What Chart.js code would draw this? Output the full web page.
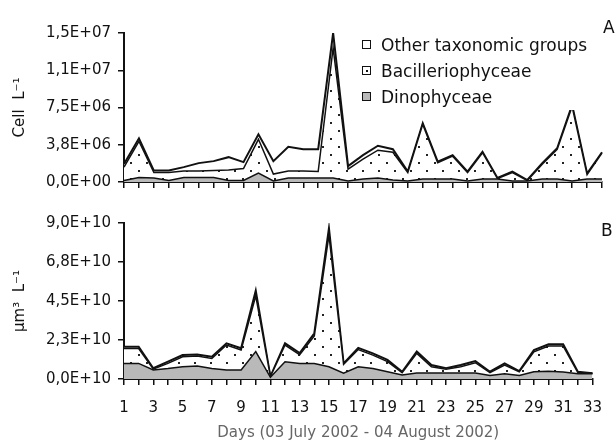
<!DOCTYPE html>
<html>
<head>
<meta charset="utf-8">
<script src="https://cdn.jsdelivr.net/npm/chart.js@4.4.1/dist/chart.umd.min.js"></script>
<style>
  body { margin: 0; background: #fff; font-family: "DejaVu Sans", sans-serif; }
  #page { position: relative; width: 616px; height: 448px; overflow: hidden; }
  #wrapA { position: absolute; left: 0; top: 0; width: 616px; height: 200px; }
  #wrapB { position: absolute; left: 0; top: 200px; width: 616px; height: 248px; }
  .tag { position: absolute; font-size: 17px; color: #111; }
  #legend { position: absolute; left: 362px; top: 32px; font-size: 17px; color: #111; background: #fff; }
  #legend .row { height: 26px; line-height: 26px; white-space: nowrap; }
  #legend .box { display: inline-block; width: 7px; height: 7px; border: 1.5px solid #111; vertical-align: middle; margin: -3px 10px 0 0; position: relative; }
</style>
</head>
<body>
<div id="page">
  <div id="wrapA"><canvas id="chartA" width="616" height="200"></canvas></div>
  <div id="wrapB"><canvas id="chartB" width="616" height="248"></canvas></div>
  <div id="legend"></div>
  <div class="tag" style="left:603px; top:17px;">A</div>
  <div class="tag" style="left:601px; top:220px;">B</div>
</div>
<script>
// x: day number, y values
const days = [1,2,3,4,5,6,7,8,9,10,11,12,13,14,15,16,17,18,19,20,21,22,23,24,25,26,27,28,29,30,31,32,33];

// panel A, cells per litre (x 1E+06)
const cellDino  = [0.15,0.45,0.4,0.15,0.45,0.45,0.45,0.15,0.15,0.9,0.1,0.4,0.4,0.4,0.4,0.1,0.3,0.4,0.2,0.1,0.3,0.3,0.3,0.1,0.3,0.3,0.1,0.1,0.3,0.3,0.1,0.3,0.3];
const cellBacil = [1.35,3.65,0.55,0.8,0.65,0.65,0.7,1.05,1.2,3.4,0.7,0.7,0.7,0.65,13.1,1.2,2.0,2.8,2.8,0.85,5.5,1.65,2.3,0.85,2.65,0.05,0.85,0.05,1.5,3.0,7.5,0.45,2.6];
const cellOther = [0.3,0.3,0.2,0.2,0.4,0.8,0.95,1.3,0.65,0.5,1.3,2.45,2.2,2.25,1.5,0.3,0.4,0.45,0.3,0.1,0.1,0.1,0.1,0.1,0.1,0.05,0.1,0.05,0.1,0.1,0.15,0.1,0.1];

// panel B, biovolume um3 per litre (x 1E+10)
const bioDino  = [0.9,0.9,0.52,0.6,0.71,0.75,0.6,0.52,0.52,1.58,0.1,1.0,0.9,0.9,0.71,0.33,0.71,0.6,0.42,0.23,0.35,0.35,0.35,0.35,0.35,0.2,0.3,0.2,0.42,0.45,0.4,0.3,0.3];
const bioBacil = [0.86,0.86,0.05,0.3,0.57,0.57,0.59,1.44,1.15,3.22,0.03,0.96,0.5,1.59,7.59,0.52,0.99,0.78,0.58,0.14,1.13,0.36,0.22,0.36,0.59,0.17,0.5,0.21,1.15,1.45,1.5,0.07,0.03];
const bioOther = [0.1,0.1,0.05,0.1,0.1,0.1,0.1,0.1,0.1,0.3,0,0.1,0.1,0.15,0.4,0.05,0.1,0.1,0.1,0.05,0.1,0.1,0.05,0.1,0.1,0.05,0.1,0.05,0.1,0.1,0.1,0.05,0];

const yTicksA = ['0,0E+00', '3,8E+06', '7,5E+06', '1,1E+07', '1,5E+07'];
const yTicksB = ['0,0E+10', '2,3E+10', '4,5E+10', '6,8E+10', '9,0E+10'];
const xTickLabels = days.map(d => d % 2 ? String(d) : '');

const seriesNames = ['Other taxonomic groups', 'Bacilleriophyceae', 'Dinophyceae'];

// sparse dot pattern for the diatom layer
function dotPattern() {
  const c = document.createElement('canvas');
  c.width = 16; c.height = 16;
  const g = c.getContext('2d');
  g.fillStyle = '#fff';
  g.fillRect(0, 0, 16, 16);
  g.fillStyle = '#222';
  g.fillRect(2, 2, 2, 2);
  g.fillRect(10, 10, 2, 2);
  return g.createPattern(c, 'repeat');
}
const dots = dotPattern();
const grey = '#b9b9b9';

function makeChart(id, dino, bacil, other, yMax, yLabels, yTitle, showX, pad, xHeight) {
  const ds = (label, data, fill, bg, w) => ({
    label, data, fill, backgroundColor: bg, borderColor: '#111',
    borderWidth: w, pointRadius: 0, tension: 0
  });
  return new Chart(document.getElementById(id), {
    type: 'line',
    data: {
      labels: days,
      datasets: [
        ds(seriesNames[2], dino, 'origin', grey, 1.5),
        ds(seriesNames[1], bacil, '-1', dots, 1.5),
        ds(seriesNames[0], other, '-1', '#fff', 2)
      ]
    },
    options: {
      responsive: false,
      animation: false,
      layout: { padding: pad },
      plugins: { legend: { display: false }, tooltip: { enabled: false } },
      scales: {
        x: {
          offset: false,
          border: { color: '#111', width: 2 },
          grid: { drawOnChartArea: false, color: '#111', tickLength: 6, lineWidth: 1.5 },
          ticks: {
            autoSkip: false, maxRotation: 0, padding: 14,
            color: '#111', font: { family: 'DejaVu Sans', size: 15 },
            callback: (v, i) => showX ? xTickLabels[i] : ''
          },
          title: {
            display: showX, text: 'Days (03 July 2002 - 04 August 2002)',
            color: '#666', font: { family: 'DejaVu Sans', size: 15 },
            padding: { top: 0, bottom: 6 }
          },
          afterFit: s => { s.height = xHeight; }
        },
        y: {
          stacked: true, min: 0, max: yMax,
          border: { color: '#111', width: 2 },
          grid: { drawOnChartArea: false, color: '#111', tickLength: 6, lineWidth: 1.5 },
          ticks: {
            stepSize: yMax / 4, padding: 7, color: '#111',
            font: { family: 'DejaVu Sans', size: 15 },
            callback: (v, i) => yLabels[i]
          },
          title: {
            display: true, text: yTitle, color: '#111',
            font: { family: 'DejaVu Sans', size: 15 },
            padding: { top: 11, bottom: 0 }
          },
          afterFit: s => { s.width = 124; }
        }
      }
    }
  });
}

makeChart('chartA', cellDino, cellBacil, cellOther, 15, yTicksA, 'Cell  L\u207B\u00B9', false,
  { top: 33, right: 1, left: 0, bottom: 0 }, 18);
makeChart('chartB', bioDino, bioBacil, bioOther, 9, yTicksB, '\u00B5m\u00B3  L\u207B\u00B9', true,
  { top: 23, right: 11, left: 0, bottom: 0 }, 69);

// legend, same order as the figure
const legend = document.getElementById('legend');
const boxStyles = ['background:#fff', 'background:#fff', 'background:' + grey];
seriesNames.forEach((name, i) => {
  const row = document.createElement('div');
  row.className = 'row';
  const box = document.createElement('span');
  box.className = 'box';
  box.style.cssText = boxStyles[i];
  if (i === 1) {
    const dot = document.createElement('span');
    dot.style.cssText = 'position:absolute;left:2.5px;top:2.5px;width:2px;height:2px;background:#111';
    box.appendChild(dot);
  }
  row.appendChild(box);
  row.appendChild(document.createTextNode(name));
  legend.appendChild(row);
});
</script>
</body>
</html>
